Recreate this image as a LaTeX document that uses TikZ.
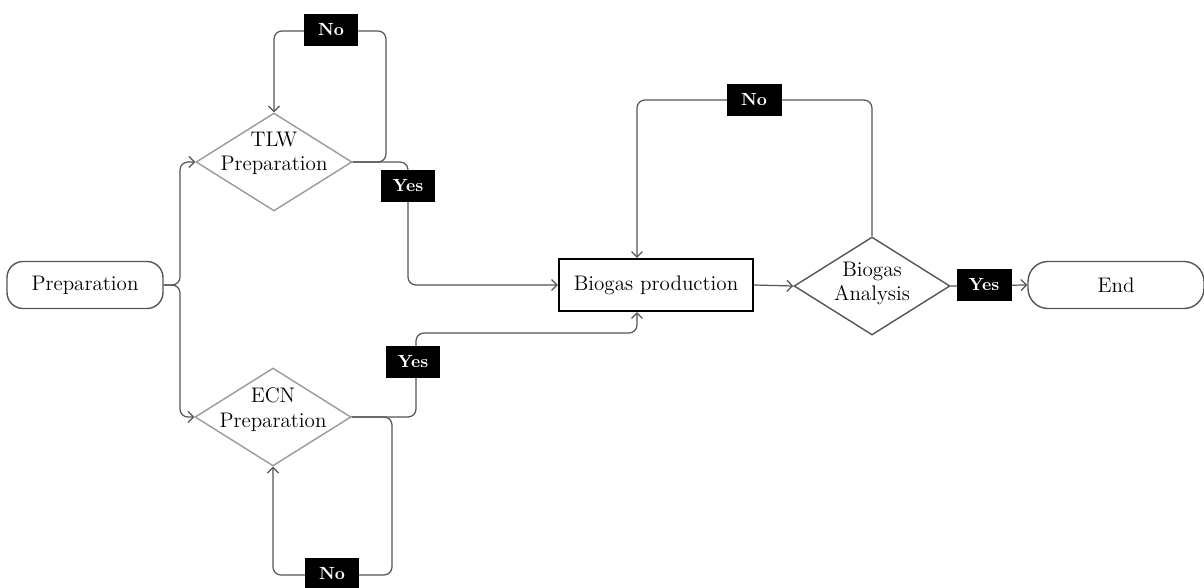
\documentclass[tikz,border=0pt]{standalone}
\usetikzlibrary{arrows.meta,shapes.geometric}
\definecolor{linegray}{HTML}{555555}
\definecolor{shapegray}{HTML}{9A9A9A}
\tikzstyle{end-node}=[fill=white,draw=linegray,thick,rounded corners=0.32cm,font=\large,minimum height=0.94cm]
\tikzstyle{process-node}=[fill=white,draw=black,line width=1.2pt,font=\large,minimum width=3.88cm,minimum height=1.04cm]
\tikzstyle{decision-node}=[diamond,draw=shapegray,thick,inner sep=0pt,minimum width=3.12cm,minimum height=1.96cm]
\tikzstyle{decision-text}=[font=\large,align=center,inner sep=0pt]
\tikzstyle{answer-node}=[fill=black,text=white,font=\bfseries\normalsize,inner sep=0pt,minimum width=1.1cm,minimum height=0.64cm]
\tikzstyle{gray-line}=[draw=linegray,line width=0.7pt,rounded corners=0.16cm]

\begin{document}
\begin{tikzpicture}[x=0.02cm,y=-0.02cm]
	\useasboundingbox (0,0) rectangle (1204,588);
	\begin{scope}
	\node (prep)[end-node,minimum width=3.12cm] at (85,285) {Preparation};
	
	\node (tlw)[decision-node] at (274,162) {};
	\node (ecn)[decision-node] at (273,417) {};
	\node (tlwtext)[decision-text] at ([yshift=0.17cm]tlw.center) {TLW\\Preparation};
	\node (ecntext)[decision-text] at ([yshift=0.15cm]ecn.center) {ECN\\Preparation};
	
	\node (prod)[process-node] at (656,285) {Biogas production};
	
	\node (ana)[decision-node,draw=linegray] at (872,286) {};
	\node (anatext)[decision-text] at ([yshift=0.05cm]ana.center) {Biogas\\Analysis};
	
	\node (end)[end-node,minimum width=3.52cm,rounded corners=0.4cm] at (1116,285) {End};
	
	\coordinate (split) at (180,285);
	\coordinate (tlwloop) at (386,31);
	\coordinate (tlwyes) at (408,186);
	\coordinate (ecnloop) at (392,575);
	\coordinate (ecnjog) at (416,333);
	\coordinate (analoop) at (754,100);
	\end{scope}
	
	\begin{scope}[>={Straight Barb[length=1.1mm,width=2.2mm]}, every path/.style=gray-line]
	\draw [->] (prep.east) -- (split) |- (tlw.west);
	\draw [->] (prep.east) -- (split) |- (ecn.west);
	\draw [->] (tlw.east) -| (tlwloop) -| (tlw.north);
	\draw [->] (tlw.east) -| (tlwyes) |- (prod.west);
	\draw [->] (ecn.east) -| (ecnloop) -| (ecn.south);
	\draw [->] (ecn.east) -| (ecnjog) -| ([xshift=-0.38cm]prod.south);
	\draw [->] (prod.east) -- (ana.west);
	\draw [->] (ana.north) |- (analoop) -| ([xshift=-0.38cm]prod.north);
	\draw [->] (ana.east) -- (end.west);
	\end{scope}
	
	\begin{scope}
	\node (tlwno)[answer-node] at (331,30) {No};
	\node (tlwyesbox)[answer-node] at (tlwyes) {Yes};
	\node (ecnno)[answer-node] at (332,574) {No};
	\node (ecnyes)[answer-node] at (413,362) {Yes};
	\node (anano)[answer-node] at (analoop) {No};
	\node (anayes)[answer-node] at (984,285) {Yes};
	\end{scope}
\end{tikzpicture}
\end{document}
